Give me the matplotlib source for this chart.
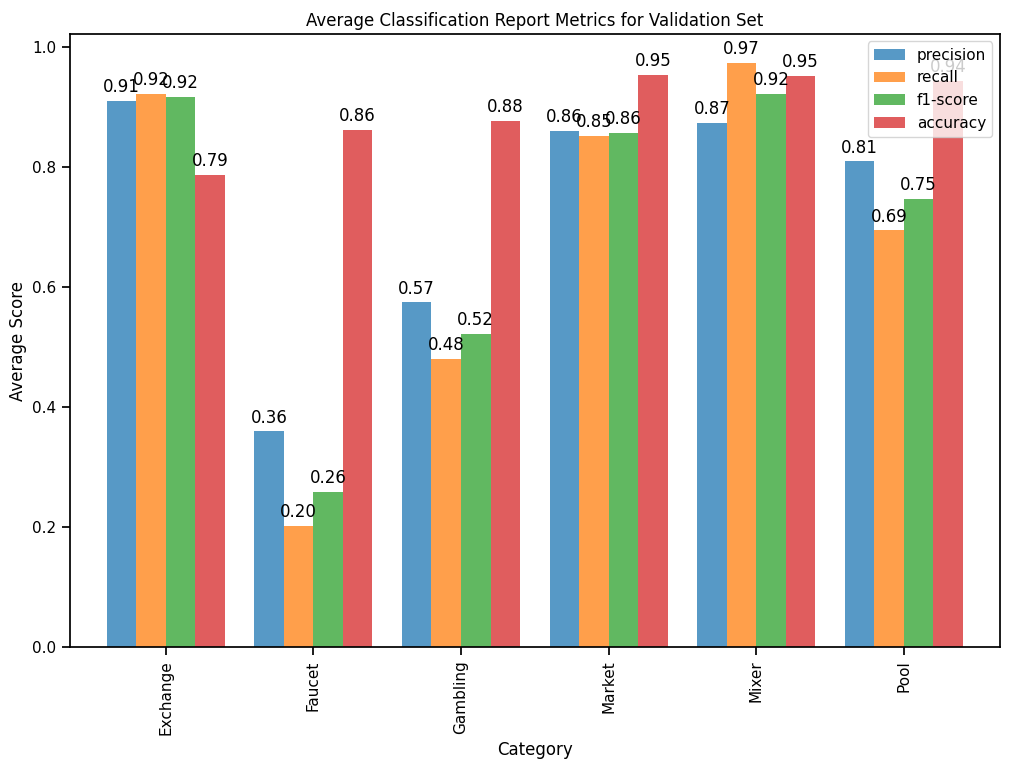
import numpy as np
import pandas as pd
import matplotlib
matplotlib.use("Agg")
import matplotlib.pyplot as plt

# values
categories = ["Exchange", "Faucet", "Gambling", "Market", "Mixer", "Pool"]
precision = [0.911, 0.360, 0.575, 0.861, 0.874, 0.810]
recall = [0.922, 0.202, 0.481, 0.853, 0.974, 0.695]
f1_score = [0.917, 0.259, 0.523, 0.858, 0.922, 0.748]
accuracy = [0.788, 0.862, 0.878, 0.954, 0.952, 0.944]

# roughly seaborn "notebook" context
plt.rcParams.update({
    "font.size": 12,
    "axes.labelsize": 12,
    "axes.titlesize": 12,
    "xtick.labelsize": 11,
    "ytick.labelsize": 11,
    "legend.fontsize": 11,
    "axes.linewidth": 1.25,
    "xtick.major.width": 1.25,
    "ytick.major.width": 1.25,
    "xtick.major.size": 6,
    "ytick.major.size": 6,
})

df = pd.DataFrame({
    "precision": precision,
    "recall": recall,
    "f1-score": f1_score,
    "accuracy": accuracy,
}, index=categories)

fig, ax = plt.subplots(figsize=(10.11, 7.69), dpi=100)
df.plot(kind="bar", ax=ax, width=0.8, alpha=0.75)

for p in ax.patches:
    h = p.get_height()
    ax.annotate(f"{h:.2f}", (p.get_x() + p.get_width() / 2, h),
                ha="center", va="center", xytext=(0, 10),
                textcoords="offset points")

ax.set_title("Average Classification Report Metrics for Validation Set")
ax.set_xlabel("Category")
ax.set_ylabel("Average Score")
ax.legend(loc="upper right")

fig.subplots_adjust(left=0.069, right=0.989, top=0.956, bottom=0.158)
fig.savefig("out.png", dpi=100)
plt.close(fig)
